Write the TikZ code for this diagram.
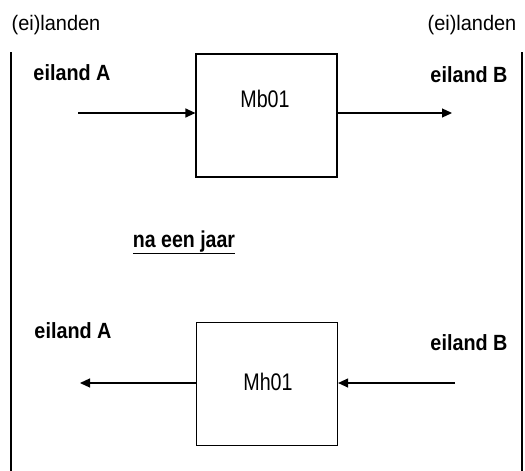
\documentclass[tikz,border=0pt]{standalone}
\usepackage{fontspec}
\setmainfont{Liberation Sans}
\newfontfamily\hdrfont[FakeStretch=0.95]{Liberation Sans}
\newfontfamily\islfont[FakeStretch=0.9]{Liberation Sans}
\newfontfamily\boxfont[FakeStretch=0.82]{Liberation Sans}
\newfontfamily\yrfont[FakeStretch=0.85]{Liberation Sans}
\usetikzlibrary{arrows.meta}
\tikzset{
  frameline/.style={line width=1.4pt, black},
  blockbox/.style={draw, line width=1.2pt, minimum width=141pt, minimum height=123pt, inner sep=0pt},
  flow/.style={line width=1.2pt, -{Triangle[length=10pt,width=9pt]}},
  headtxt/.style={anchor=base, font=\hdrfont\fontsize{21}{25}\selectfont, inner sep=0pt},
  islandtxt/.style={anchor=base, font=\islfont\bfseries\fontsize{22}{26}\selectfont, inner sep=0pt},
  boxtxt/.style={anchor=base, font=\boxfont\fontsize{24}{28}\selectfont, inner sep=0pt},
  yeartxt/.style={anchor=base, font=\yrfont\bfseries\fontsize{23}{27}\selectfont, inner sep=0pt}
}
\begin{document}
\begin{tikzpicture}[x=1pt,y=-1pt]
\useasboundingbox (0,0) rectangle (525,471);
% side lines
\coordinate (lt) at (11,52);
\coordinate (lb) at (11,471);
\coordinate (rt) at (522,52);
\coordinate (rb) at (522,471);
\draw[frameline] (lt) -- (lb);
\draw[frameline] (rt) -- (rb);
% headers
\node[headtxt] (hl) at (56,30) {(ei)landen};
\node[headtxt] (hr) at (472,30) {(ei)landen};
% top block
\node[blockbox] (mb) at (266.5,115.5) {};
\node[boxtxt] (mbt) at (265,107) {Mb01};
\node[islandtxt] (ta) at (72,80) {eiland A};
\node[islandtxt] (tb) at (469,82) {eiland B};
\coordinate (ain) at (78,113);
\coordinate (bout) at (452,113);
\draw[flow] (ain) -- (mb.west |- ain);
\draw[flow] (mb.east |- bout) -- (bout);
% middle text
\node[yeartxt] (nj) at (184,247) {\underline{na een jaar}};
% bottom block
\node[blockbox] (mh) at (267,384) {};
\node[boxtxt] (mht) at (268,390) {Mh01};
\node[islandtxt] (ba) at (73,338) {eiland A};
\node[islandtxt] (bb) at (469,350) {eiland B};
\coordinate (aout) at (80,383);
\coordinate (bin) at (455,383);
\draw[flow] (mh.west |- aout) -- (aout);
\draw[flow] (bin) -- (mh.east |- bin);
\end{tikzpicture}
\end{document}
